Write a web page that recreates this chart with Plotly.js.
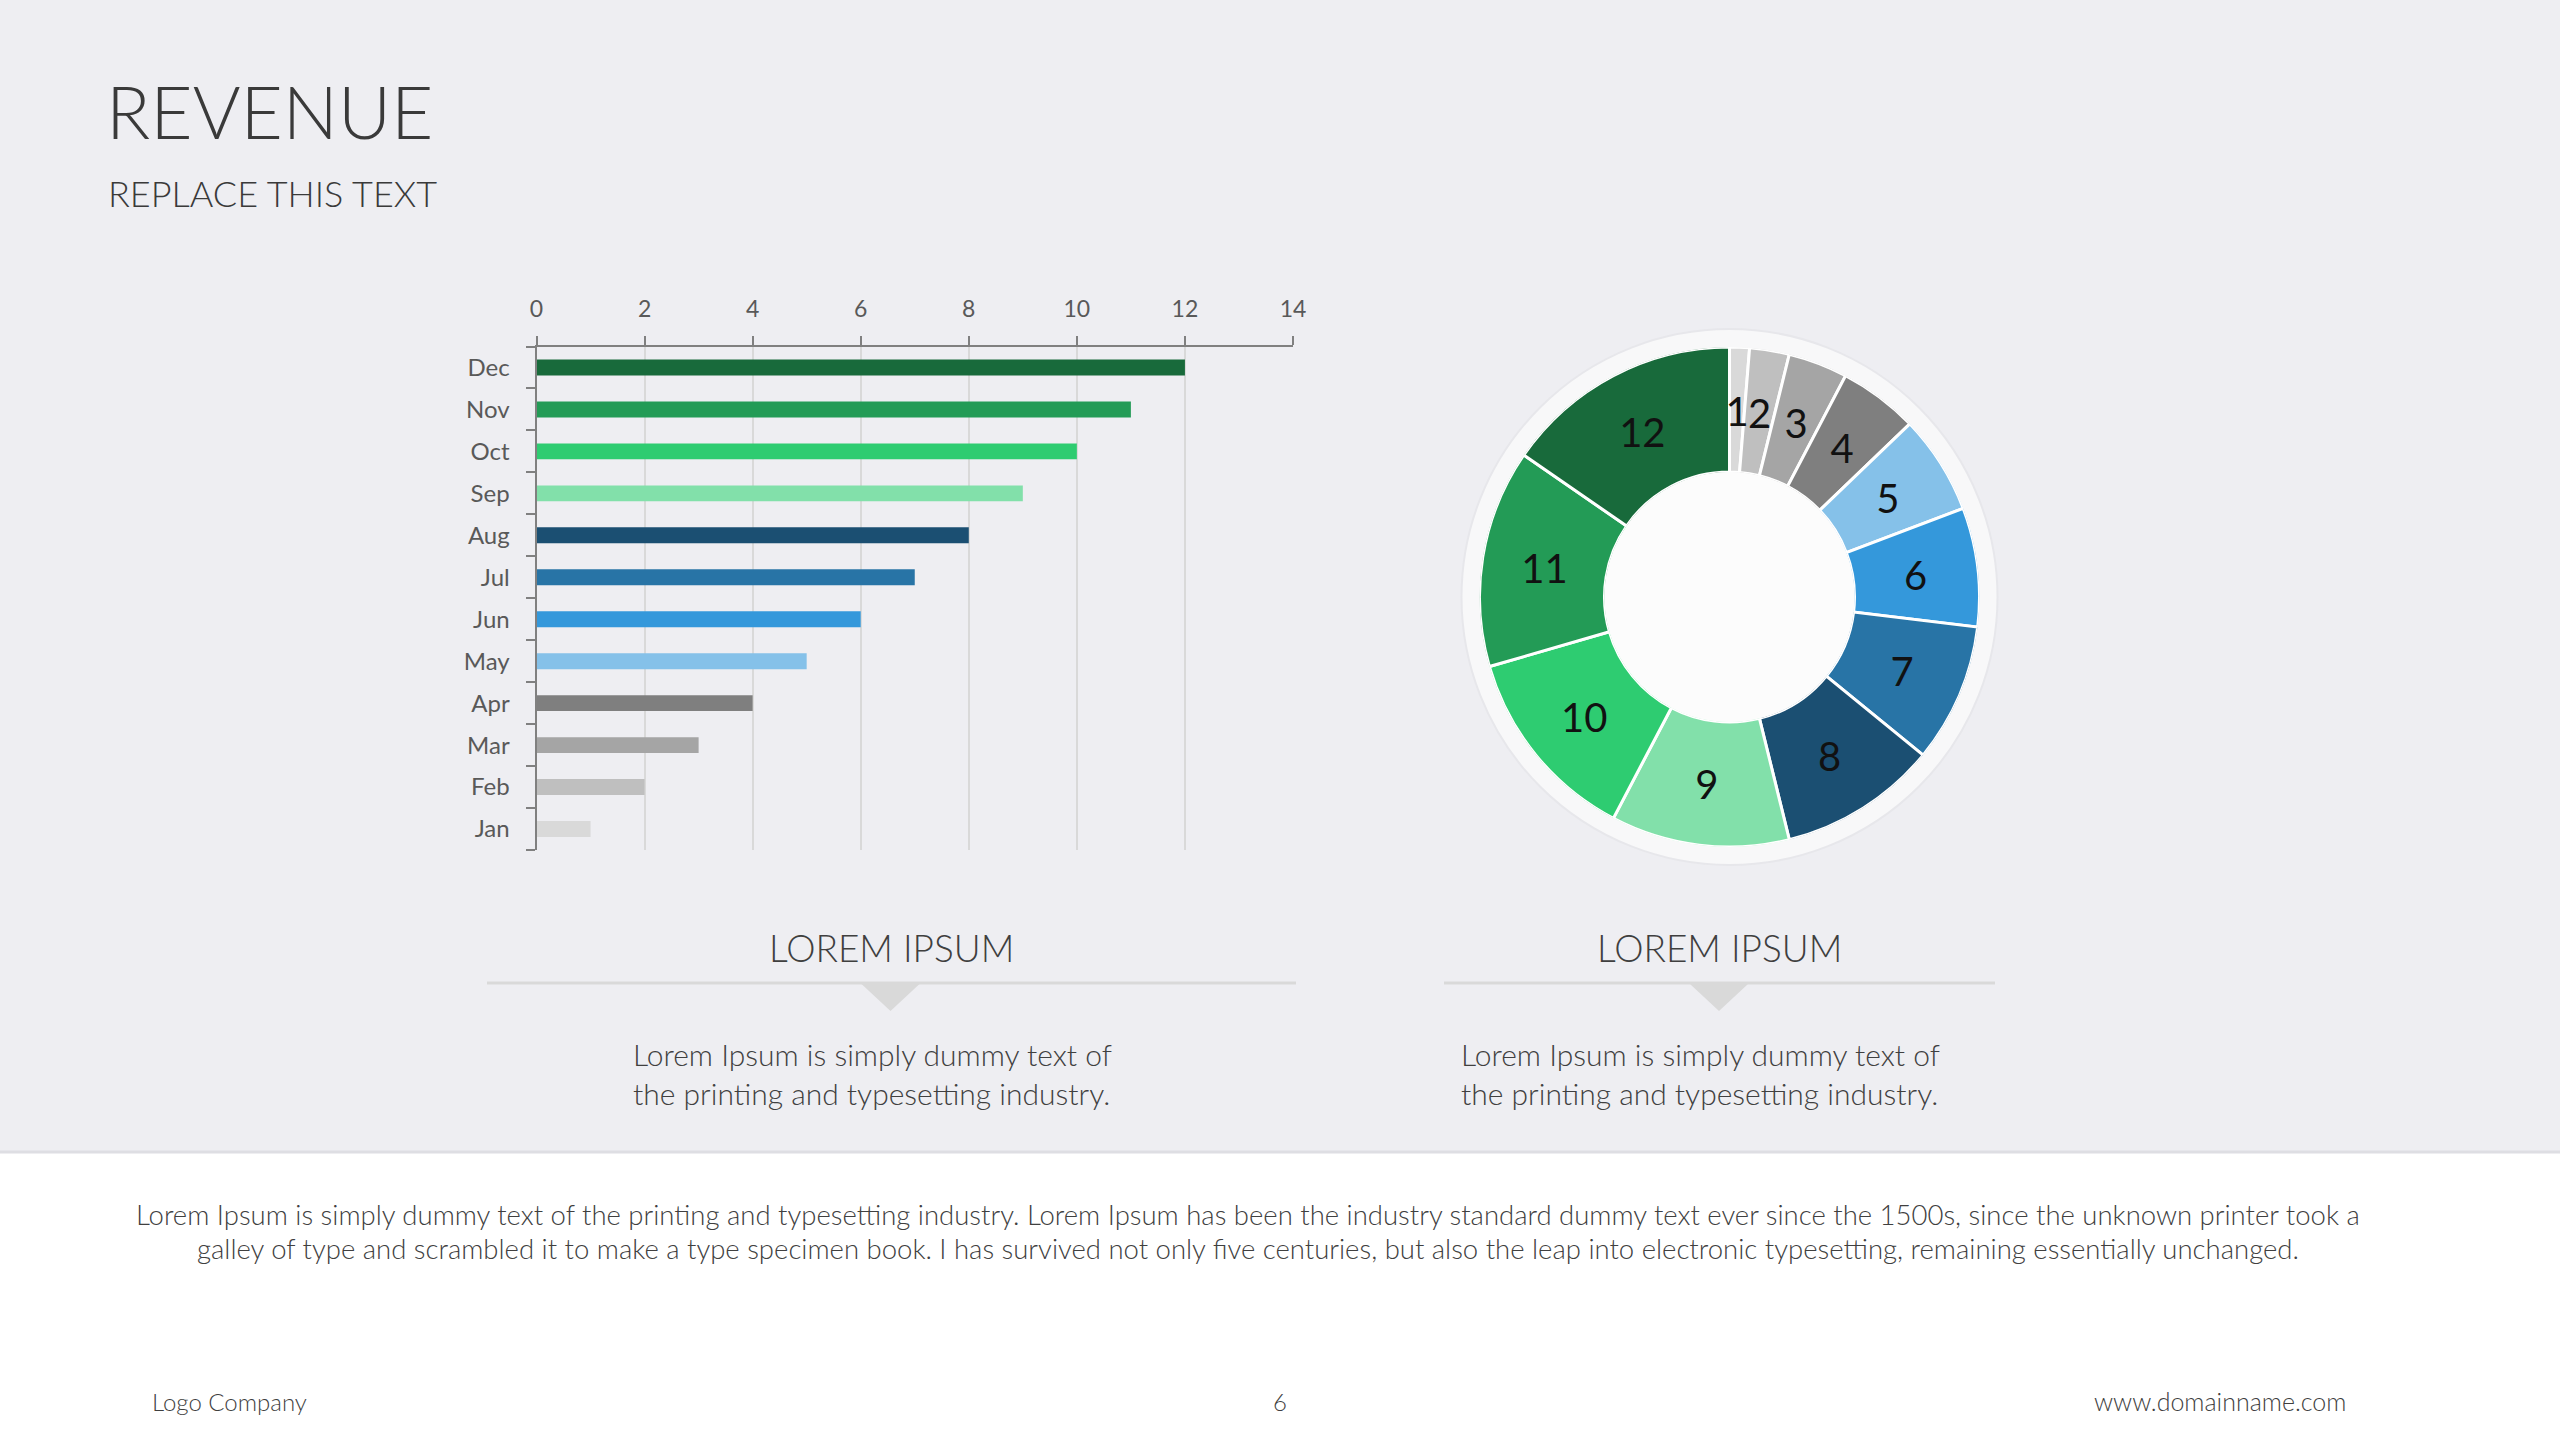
<!DOCTYPE html>
<html><head><meta charset="utf-8">
<script src="https://cdn.plot.ly/plotly-3.0.1.min.js"></script>
<style>html,body{margin:0;padding:0;background:#eeeef2;} #chart{width:2560px;height:1440px;}</style>
</head><body><div id="chart"></div>
<script>
// ---- data ----
const months = ['Jan','Feb','Mar','Apr','May','Jun','Jul','Aug','Sep','Oct','Nov','Dec'];
const revenue = [1,2,3,4,5,6,7,8,9,10,11,12];
const monthColors = ['#d9d9d9','#bfbfbf','#a5a5a5','#7f7f7f','#85c1e9','#3498db','#2874a6','#1b4f72','#82e0aa','#2ecc71','#239b56','#186a3b'];
const xTicks = [0,2,4,6,8,10,12,14];

const title = 'REVENUE';
const subtitle = 'REPLACE THIS TEXT';
const sectionTitle = 'LOREM IPSUM';
const sectionText = ['Lorem Ipsum is simply dummy text of', 'the printing and typesetting industry.'];
const paragraph = ['Lorem Ipsum is simply dummy text of the printing and typesetting industry. Lorem Ipsum has been the industry standard dummy text ever since the 1500s, since the unknown printer took a',
  'galley of type and scrambled it to make a type specimen book. I has survived not only five centuries, but also the leap into electronic typesetting, remaining essentially unchanged.'];
const footer = ['Logo Company', '6', 'www.domainname.com'];

// ---- helpers (pixel -> paper) ----
const W = 2560, H = 1440;
const px = x => x / W;
const py = y => 1 - y / H;
const FONT = 'Lato, "Open Sans", sans-serif';
const TXT = '#3f3f3f';

// donut geometry derived from the data (angles of each slice)
const total = revenue.reduce((a, b) => a + b, 0);
let acc = 0;
const sliceMid = revenue.map(v => { const m = (acc + v / 2) / total * 360; acc += v; return m; });
const sliceWidth = revenue.map(v => v / total * 360);

const bar = {
  type: 'bar', orientation: 'h', x: revenue, y: months,
  marker: {color: monthColors}, hoverinfo: 'skip', showlegend: false,
  xaxis: 'x', yaxis: 'y'
};

const donut = {
  type: 'barpolar', subplot: 'polar', theta: sliceMid, width: sliceWidth,
  r: revenue.map(() => 1),
  marker: {color: monthColors, line: {color: '#ffffff', width: 3}},
  showlegend: false, hoverinfo: 'skip'
};

const donutLabels = {
  type: 'scatterpolar', subplot: 'polar2', mode: 'text', theta: sliceMid,
  r: revenue.map(() => 0.5), text: revenue.map(String), textposition: 'middle center',
  textfont: {family: FONT, size: 40, color: '#111111'},
  showlegend: false, hoverinfo: 'skip'
};

function ann(text, x, y, size, xanchor, color, weight) {
  return {text: text, x: px(x), y: py(y), xref: 'paper', yref: 'paper', showarrow: false,
    xanchor: xanchor, yanchor: 'middle', align: xanchor === 'right' ? 'right' : (xanchor === 'center' ? 'center' : 'left'),
    font: {family: FONT, size: size, color: color || TXT, weight: weight || 300}};
}

const annotations = [
  ann(title, 104, 111, 73, 'left', '#3a3a3a'),
  ann(subtitle, 106, 193, 36, 'left', '#3a3a3a'),
  ann(sectionTitle, 891, 947, 37, 'center'),
  ann(sectionTitle, 1719, 947, 37, 'center'),
  ann(sectionText[0], 631, 1054, 30, 'left', '#404040'),
  ann(sectionText[1], 631, 1093, 30, 'left', '#404040'),
  ann(sectionText[0], 1459, 1054, 30, 'left', '#404040'),
  ann(sectionText[1], 1459, 1093, 30, 'left', '#404040'),
  ann(paragraph[0], 1248, 1214, 27.5, 'center', '#404040'),
  ann(paragraph[1], 1248, 1248, 27.5, 'center', '#404040'),
  ann(footer[0], 150, 1401, 24, 'left'),
  ann(footer[1], 1280, 1401, 24, 'center'),
  ann(footer[2], 2348, 1401, 25, 'right')
];

function tri(cx) {
  return {type: 'path', xref: 'paper', yref: 'paper', layer: 'below',
    path: `M ${px(cx-29)} ${py(984)} L ${px(cx+29)} ${py(984)} L ${px(cx)} ${py(1011)} Z`,
    fillcolor: '#d9d9d9', line: {width: 0}};
}
function circ(cx, cy, r, fill, lineColor) {
  return {type: 'circle', xref: 'paper', yref: 'paper', layer: 'below',
    xsizemode: 'pixel', ysizemode: 'pixel', xanchor: px(cx), yanchor: py(cy),
    x0: -r, x1: r, y0: -r, y1: r, fillcolor: fill,
    line: {color: lineColor || fill, width: lineColor ? 2 : 0}};
}

const shapes = [
  {type: 'rect', xref: 'paper', yref: 'paper', layer: 'below', x0: 0, x1: 1, y0: 0, y1: py(1152),
    fillcolor: '#ffffff', line: {width: 0}},
  {type: 'line', xref: 'paper', yref: 'paper', layer: 'below', x0: 0, x1: 1, y0: py(1152), y1: py(1152),
    line: {color: '#dedee3', width: 3}},
  {type: 'line', xref: 'paper', yref: 'paper', layer: 'below', x0: px(487), x1: px(1296), y0: py(983), y1: py(983),
    line: {color: '#d9d9d9', width: 3}},
  {type: 'line', xref: 'paper', yref: 'paper', layer: 'below', x0: px(1444), x1: px(1995), y0: py(983), y1: py(983),
    line: {color: '#d9d9d9', width: 3}},
  tri(890.5), tri(1719),
  circ(1729.5, 597, 268, '#f8f8f9', '#e7e7eb'),
  circ(1729.5, 597, 127, '#fcfcfc')
];

const hiddenRadial = {range: [0, 1], visible: false, showgrid: false, showline: false, showticklabels: false, ticks: ''};
const hiddenAngular = {rotation: 90, direction: 'clockwise', visible: false, showgrid: false, showline: false, showticklabels: false, ticks: ''};

const layout = {
  width: W, height: H, autosize: false,
  margin: {l: 0, r: 0, t: 0, b: 0, pad: 0},
  paper_bgcolor: '#eeeef2', plot_bgcolor: 'rgba(0,0,0,0)',
  showlegend: false, bargap: 0.62,
  font: {family: FONT, color: '#595959'},
  xaxis: {domain: [px(536.5), px(1293)], range: [0, 14], side: 'top', tickvals: xTicks,
    ticks: 'outside', ticklen: 9, tickwidth: 2, tickcolor: '#808080',
    showline: true, linecolor: '#808080', linewidth: 2,
    showgrid: true, gridcolor: '#d9d9d9', gridwidth: 2, zeroline: false,
    tickfont: {family: FONT, size: 23, color: '#595959'}, ticklabelstandoff: 9,
    fixedrange: true, anchor: 'y'},
  yaxis: {domain: [py(850), py(346.5)], type: 'category', categoryorder: 'array', categoryarray: months,
    ticks: 'outside', tickson: 'boundaries', ticklen: 9, tickwidth: 2, tickcolor: '#808080',
    showline: true, linecolor: '#808080', linewidth: 2, showgrid: false, zeroline: false,
    tickfont: {family: FONT, size: 24, color: '#595959'}, ticklabelstandoff: 20, fixedrange: true, anchor: 'x'},
  polar: {
    domain: {x: [px(1479.5), px(1979.5)], y: [py(847), py(347)]},
    hole: 0.5, bgcolor: 'rgba(0,0,0,0)',
    radialaxis: hiddenRadial, angularaxis: hiddenAngular
  },
  polar2: {
    domain: {x: [px(1479.5), px(1979.5)], y: [py(853), py(353)]},
    hole: 0.5, bgcolor: 'rgba(0,0,0,0)',
    radialaxis: hiddenRadial, angularaxis: hiddenAngular
  },
  annotations: annotations,
  shapes: shapes
};

Plotly.newPlot('chart', [bar, donut, donutLabels], layout, {staticPlot: true, displayModeBar: false});
</script>
</body></html>
